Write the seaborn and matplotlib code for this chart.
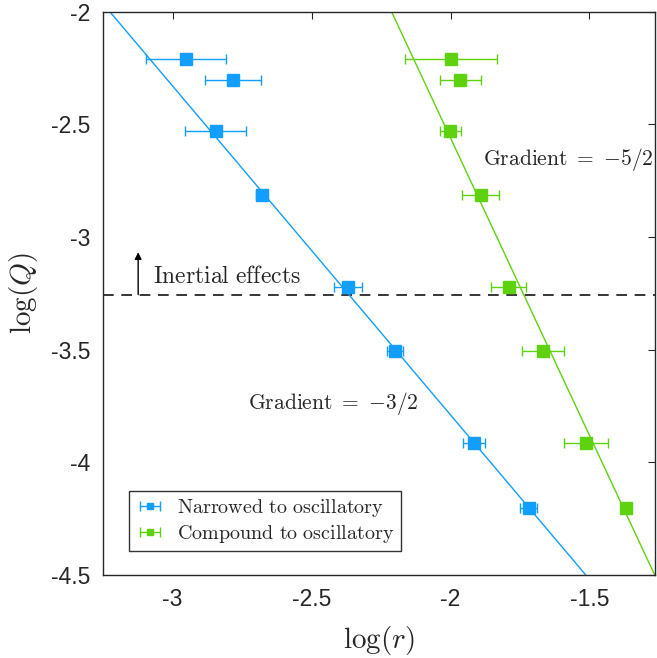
import numpy as np
import pandas as pd
import seaborn as sns
import matplotlib
matplotlib.use("Agg")
import matplotlib.pyplot as plt

# values
log_q = [-2.208, -2.303, -2.527, -2.815, -3.220, -3.506, -3.914, -4.200]
narrowed_r = [-2.952, -2.782, -2.845, -2.680, -2.368, -2.200, -1.915, -1.719]
narrowed_err = [0.145, 0.100, 0.110, 0.020, 0.050, 0.030, 0.040, 0.030]
compound_r = [-1.998, -1.965, -2.001, -1.892, -1.791, -1.667, -1.513, -1.370]
compound_err = [0.167, 0.073, 0.037, 0.068, 0.062, 0.077, 0.078, 0.010]

# fitted lines (end points)
fit_narrowed_r = [-3.2255, -1.513]
fit_compound_r = [-2.212, -1.265]
fit_q = [-2.0, -4.5]

inertial_q = -3.255

x_ticks = [-3, -2.5, -2, -1.5]
x_labels = ['-3', '-2.5', '-2', '-1.5']
y_ticks = [-4.5, -4, -3.5, -3, -2.5, -2]
y_labels = ['-4.5', '-4', '-3.5', '-3', '-2.5', '-2']

blue = '#129eff'
green = '#5fd20f'

sns.set_style('white')
plt.rcParams['font.family'] = ['Liberation Sans', 'DejaVu Sans']
plt.rcParams['mathtext.fontset'] = 'cm'
plt.rcParams['axes.unicode_minus'] = False

fig = plt.figure(figsize=(6.57, 6.58), dpi=100)
ax = fig.add_axes([0.157, 0.126, 0.84, 0.856])

# fit lines
fits = pd.DataFrame({
    'r': fit_narrowed_r + fit_compound_r,
    'q': fit_q + fit_q,
    'set': ['narrowed'] * 2 + ['compound'] * 2,
})
sns.lineplot(data=fits, x='r', y='q', hue='set', palette={'narrowed': blue, 'compound': green},
             lw=1.0, legend=False, ax=ax, sort=False)

# data points with horizontal error bars
ax.errorbar(narrowed_r, log_q, xerr=narrowed_err, fmt='s', color=blue, ms=8.5,
            elinewidth=1.0, capsize=3.5, capthick=1.0, zorder=3,
            label=r'$\mathrm{Narrowed\ to\ oscillatory}$')
ax.errorbar(compound_r, log_q, xerr=compound_err, fmt='s', color=green, ms=8.5,
            elinewidth=1.0, capsize=3.5, capthick=1.0, zorder=3,
            label=r'$\mathrm{Compound\ to\ oscillatory}$')

# inertial threshold
ax.axhline(inertial_q, color='black', lw=1.1, ls=(0, (7, 5)), zorder=1)
ax.annotate('', xy=(-3.124, -3.067), xytext=(-3.124, inertial_q),
            arrowprops=dict(arrowstyle='-|>', color='black', lw=1.0, mutation_scale=10,
                            shrinkA=0, shrinkB=0))
ax.text(-3.07, -3.178, r'$\mathrm{Inertial\ effects}$', fontsize=17, ha='left', va='center')
ax.text(-1.883, -2.656, r'$\mathrm{Gradient}\ =\ {-}5/2$', fontsize=15.5, ha='left', va='center')
ax.text(-2.730, -3.740, r'$\mathrm{Gradient}\ =\ {-}3/2$', fontsize=15.5, ha='left', va='center')

ax.set_xlim(-3.25, -1.264)
ax.set_ylim(-4.5, -2)
ax.set_xticks(x_ticks)
ax.set_xticklabels(x_labels)
ax.set_yticks(y_ticks)
ax.set_yticklabels(y_labels)
ax.tick_params(direction='in', length=5, width=0.8, colors='#262626', labelsize=16.5,
               top=True, right=True, pad=9)
for s in ax.spines.values():
    s.set_color('#262626')
    s.set_linewidth(1.0)

ax.set_xlabel(r'$\log(r)$', fontsize=21, labelpad=10)
ax.set_ylabel(r'$\log(Q)$', fontsize=21, labelpad=8)

leg = ax.legend(loc='lower left', bbox_to_anchor=(0.047, 0.043), borderaxespad=0,
                fontsize=14.5, frameon=True, fancybox=False, edgecolor='black',
                markerscale=0.55, handlelength=1.5, handletextpad=0.6,
                labelspacing=0.2, borderpad=0.3)
leg.get_frame().set_linewidth(1.0)

fig.savefig('out.png', dpi=100)
